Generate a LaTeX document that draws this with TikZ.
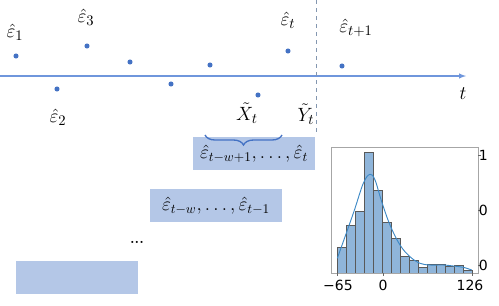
\documentclass[tikz,border=0pt]{standalone}
\usepackage{fontspec}
\newfontfamily\histfont{DejaVu Sans}
\usetikzlibrary{calc,arrows,decorations.pathreplacing,positioning}

\definecolor{dotblue}{HTML}{4472C4}
\definecolor{axisblue}{HTML}{6F96DC}
\definecolor{boxblue}{HTML}{B4C7E7}
\definecolor{splitgrey}{HTML}{8497B0}
\definecolor{barblue}{HTML}{8FB5DA}
\definecolor{kdeblue}{HTML}{3D89C6}

\tikzset{
  resid/.style={circle,fill=dotblue,inner sep=0pt,minimum size=3.8pt},
  lbl/.style={inner sep=0pt,font=\fontsize{15}{17}\selectfont},
  winbox/.style={fill=boxblue,inner sep=0pt,minimum width=91.5pt,minimum height=24.75pt,font=\fontsize{14}{16}\selectfont},
  histlbl/.style={inner sep=0pt,font=\histfont\fontsize{10.5}{12}\selectfont},
}

\begin{document}
\begin{tikzpicture}[x=0.75pt,y=-0.75pt]
\useasboundingbox (0,0) rectangle (499,305);

\coordinate (XAxisMin) at (0,76);
\coordinate (XAxisMax) at (466,76);
\coordinate (SplitTop) at (316,0);
\coordinate (SplitBot) at (316,134);

\draw [axisblue,thick,-latex] (XAxisMin) -- (XAxisMax);% Draw time axis
\node[lbl] (tlbl) at (463,94) {$t$};
\draw [splitgrey,dashed,thin] (SplitTop) -- (SplitBot);% split between X and Y

% residuals
\foreach \n/\x/\y in {e1/16/56, e2/57/89, e3/87/46, e4/130/62, e5/171/84,
                      e6/210/65, e7/258/95, et/288/51, etp/342/66}{
  \node[resid] (\n) at (\x,\y) {};
}
\node[lbl] (l1) at (15,32) {$\hat{\varepsilon}_1$};
\node[lbl] (l2) at (58,117) {$\hat{\varepsilon}_2$};
\node[lbl] (l3) at (86,17) {$\hat{\varepsilon}_3$};
\node[lbl] (lt) at (288,20) {$\hat{\varepsilon}_t$};
\node[lbl] (ltp) at (356,28) {$\hat{\varepsilon}_{t+1}$};

% sliding windows
\node[winbox] (box1) at (254,153.5) {$\hat{\varepsilon}_{t-w+1},\ldots,\hat{\varepsilon}_t$};
\node[winbox,minimum width=99pt] (box2) at (216,205.5) {$\hat{\varepsilon}_{t-w},\ldots,\hat{\varepsilon}_{t-1}$};
\node[inner sep=0pt,font=\fontsize{11}{13}\selectfont\bfseries] (more) at (137,242) {...};
\node[winbox] (box3) at (77,277.5) {};

\coordinate (BraceL) at (205,135);
\coordinate (BraceR) at (282,135);
\draw [dotblue,line width=1pt,decorate,decoration={brace,amplitude=7.5pt}] (BraceR) -- (BraceL);
\node[lbl] (xt) at (247,113) {$\tilde{X}_t$};
\node[lbl] (yt) at (306,114) {$\tilde{Y}_t$};

% histogram of residuals
\foreach \i/\h in {0/247.7, 1/225.7, 2/211.7, 3/152.7, 4/190.7, 5/222.7, 6/238.3, 7/256,
                   8/260, 9/267.3, 10/264.3, 11/264.3, 12/266, 13/265, 14/270}{
  \filldraw[fill=barblue,draw=black!65,line width=0.5pt] (337+9*\i,273) rectangle +(9,\h-273);
}
\draw [kdeblue,line width=0.7pt] plot[smooth,tension=0.6] coordinates {
  (337.3,258.3) (353.3,213.3) (363.3,183.3) (370,174.3) (375,180) (381.7,201.7)
  (390,225) (400,245) (410,256.7) (420,263.3) (430,265) (443.3,265)
  (453.3,266) (463.3,267.3) (471.7,270)};
\draw [black!35,line width=0.6pt] (331,147) rectangle (478,273);% frame
\foreach \x in {337,383,472}{
  \draw [black!60,line width=0.5pt] (\x,273) -- (\x,276);
}
\node[histlbl] (hx1) at (338,285) {\textminus65};
\node[histlbl] (hx2) at (383,285) {0};
\node[histlbl] (hx3) at (470,285) {126};
\foreach \y in {155,210,265}{
  \draw [black!60,line width=0.5pt] (478,\y) -- (481,\y);
}
\node[histlbl,anchor=west] (hy1) at (478.5,155) {1};
\node[histlbl,anchor=west] (hy2) at (478.5,210) {0};
\node[histlbl,anchor=west] (hy3) at (478.5,265) {0};
\end{tikzpicture}
\end{document}
